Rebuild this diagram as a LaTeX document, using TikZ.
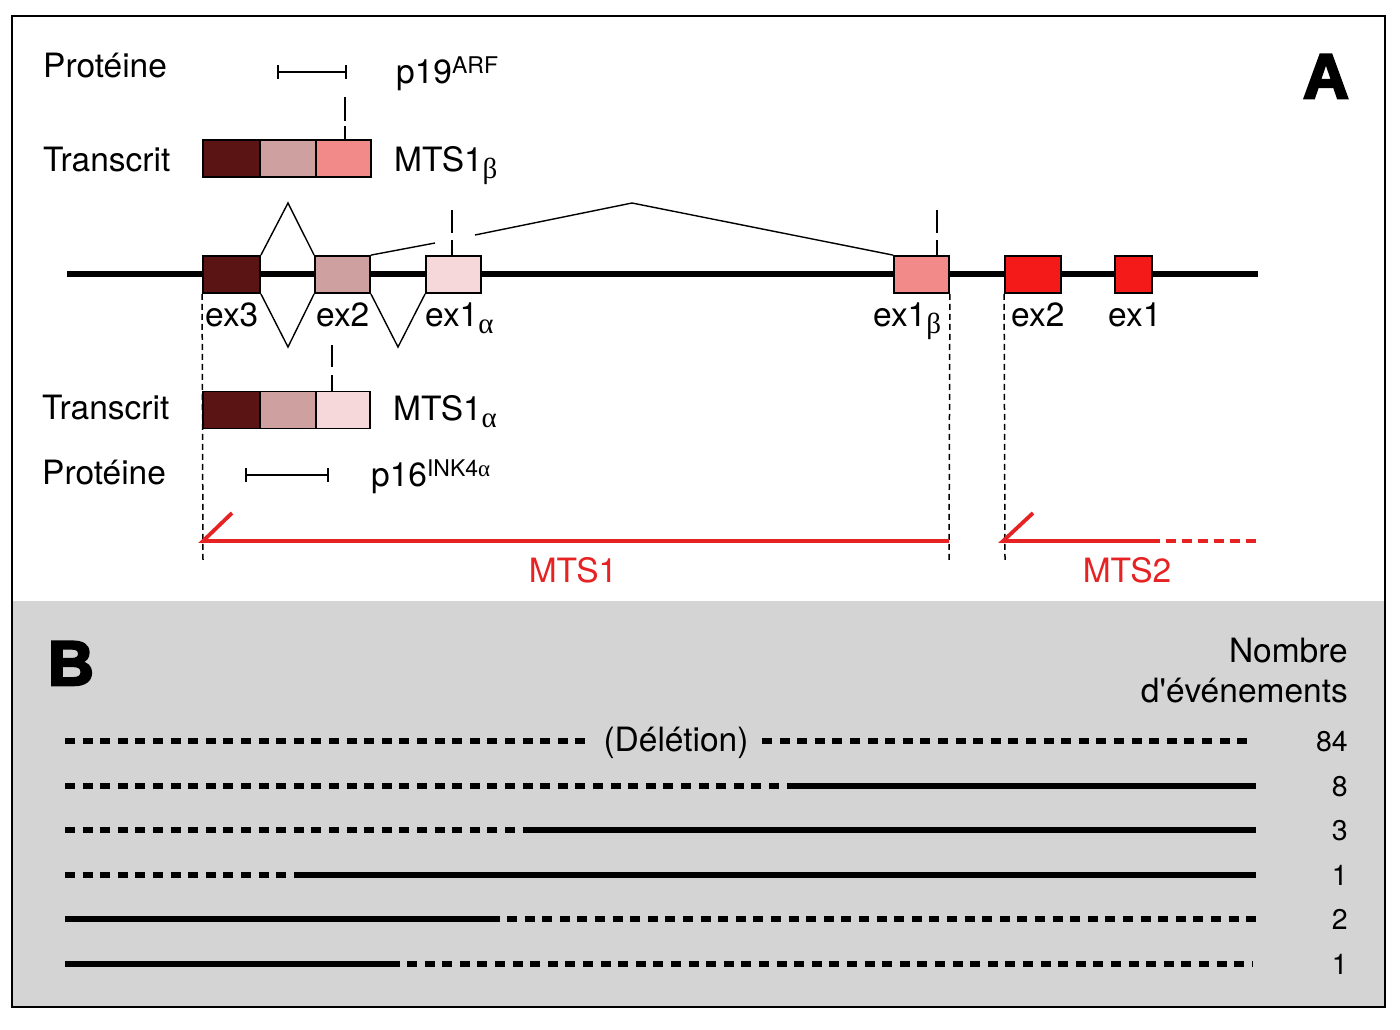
\documentclass[tikz,border=0pt]{standalone}
\usepackage{fontspec}
\usetikzlibrary{calc}
\setmainfont{TeX Gyre Heros}
\newfontfamily\plainq[Ligatures=TeXOff]{TeX Gyre Heros}
\newfontfamily\grk{Liberation Serif}
\newfontfamily\heavy[FakeBold=4]{Liberation Sans}
\definecolor{dk}{HTML}{5A1414}
\definecolor{md}{HTML}{CFA0A0}
\definecolor{lt}{HTML}{F6D8DA}
\definecolor{sal}{HTML}{F28A8A}
\definecolor{rd}{HTML}{F51A1A}
\definecolor{mtsred}{HTML}{E62222}
\definecolor{panelgray}{HTML}{D4D4D4}
\begin{document}
\begin{tikzpicture}[x=1pt,y=-1pt,
  lbl/.style={font=\fontsize{33.5}{36}\selectfont, inner sep=0pt, anchor=base west},
  exon/.style={draw=black, line width=1.8pt, minimum height=37pt, inner sep=0pt},
  seg/.style={draw=black, line width=1.8pt, minimum height=37pt, inner sep=0pt},
  spl/.style={line width=1.4pt},
  ticky/.style={line width=2.2pt, dash pattern=on 23pt off 7pt},
  guide/.style={line width=1.5pt, dash pattern=on 6pt off 4pt},
  protbar/.style={line width=1.6pt},
  mts/.style={mtsred, line width=3.8pt},
  evline/.style={line width=5.5pt},
  evdash/.style={line width=5.5pt, dash pattern=on 10pt off 7.6pt},
  num/.style={font=\fontsize{28.5}{30}\selectfont, anchor=base east, inner sep=0pt},
  big/.style={font=\fontsize{63}{63}\selectfont\heavy\bfseries, inner sep=0pt, anchor=base west}
]
\useasboundingbox (0,0) rectangle (1400,1029);
\fill[white] (0,0) rectangle (1400,1029);
\fill[panelgray] (12,601) rectangle (1385,1007);
\draw[line width=2.2pt] (12,16) rectangle (1385,1007);

% panel letters
\node[big] (lA) at (1303,98) {A};
\node[big] (lB) at (48,685) {B};

% gene line
\coordinate (gl) at (67,274);
\coordinate (gr) at (1258,274);
\draw[line width=5.5pt] (gl) -- (gr);

% exons
\node[exon, fill=dk, minimum width=57pt] (e3) at (231.5,274.5) {};
\node[exon, fill=md, minimum width=55pt] (e2) at (342.5,274.5) {};
\node[exon, fill=lt, minimum width=55pt] (e1a) at (453.5,274.5) {};
\node[exon, fill=sal, minimum width=55pt] (e1b) at (921.5,274.5) {};
\node[exon, fill=rd, minimum width=56pt] (m2) at (1033,274.5) {};
\node[exon, fill=rd, minimum width=37pt] (m1) at (1133.5,274.5) {};

% exon labels
\node[lbl] (le3) at (205,326) {ex3};
\node[lbl] (le2) at (316,326) {ex2};
\node[lbl] (le1a) at (425,326) {ex1{\grk\fontsize{29}{30}\selectfont\raisebox{-7pt}{α}}};
\node[lbl] (le1b) at (873,326) {ex1{\grk\fontsize{29}{30}\selectfont\raisebox{-7pt}{β}}};
\node[lbl] (lm2) at (1011,326) {ex2};
\node[lbl] (lm1) at (1108,326) {ex1};

% splicing
\coordinate (s1) at (288,203);
\coordinate (s2) at (288,347);
\coordinate (s3) at (398,347);
\coordinate (s4) at (632,203);
\coordinate (g1) at (435,243);
\coordinate (g2) at (475,235);
\draw[spl] (e3.north east) -- (s1) -- (e2.north west);
\draw[spl] (e3.south east) -- (s2) -- (e2.south west);
\draw[spl] (e2.south east) -- (s3) -- (e1a.south west);
\draw[spl] (e2.north east) -- (g1);
\draw[spl] (g2) -- (s4) -- (e1b.north west);

% start ticks on gene
\coordinate (t1) at (452,210);
\coordinate (t1b) at (452,256);
\coordinate (t2) at (937,210);
\coordinate (t2b) at (937,256);
\draw[ticky] (t1) -- (t1b);
\draw[ticky] (t2) -- (t2b);

% top transcript MTS1beta
\node[lbl] (protT) at (43,77) {Protéine};
\node[lbl] (trT) at (43,171) {Transcrit};
\node[seg, fill=dk, minimum width=57pt] (tb1) at (231.5,158.5) {};
\node[seg, fill=md, minimum width=56pt] (tb2) at (288,158.5) {};
\node[seg, fill=sal, minimum width=55pt] (tb3) at (343.5,158.5) {};
\node[lbl] (mtsb) at (394,171) {MTS1{\grk\fontsize{29}{30}\selectfont\raisebox{-7pt}{β}}};
\coordinate (tt1) at (345,97);
\coordinate (tt2) at (345,140);
\draw[line width=2.2pt, dash pattern=on 24pt off 5pt] (tt1) -- (tt2);
\coordinate (p19a) at (278,72);
\coordinate (p19b) at (346,72);
\draw[protbar] (p19a) -- (p19b);
\draw[protbar] ($(p19a)+(0,-7)$) -- ($(p19a)+(0,7)$);
\draw[protbar] ($(p19b)+(0,-7)$) -- ($(p19b)+(0,7)$);
\node[lbl] (p19) at (396,83) {p19\raisebox{10pt}{\fontsize{23}{24}\selectfont ARF}};

% bottom transcript MTS1alpha
\node[lbl] (trB) at (42,419) {Transcrit};
\node[lbl] (protB) at (42,484) {Protéine};
\node[seg, fill=dk, minimum width=57pt] (bb1) at (231.5,410) {};
\node[seg, fill=md, minimum width=56pt] (bb2) at (288,410) {};
\node[seg, fill=lt, minimum width=54pt] (bb3) at (343,410) {};
\node[lbl] (mtsa) at (393,420) {MTS1{\grk\fontsize{29}{30}\selectfont\raisebox{-7pt}{α}}};
\coordinate (bt1) at (332,345);
\coordinate (bt2) at (332,392);
\draw[line width=2.2pt, dash pattern=on 22pt off 8pt] (bt1) -- (bt2);
\coordinate (p16a) at (246,475);
\coordinate (p16b) at (328,475);
\draw[protbar] (p16a) -- (p16b);
\draw[protbar] ($(p16a)+(0,-7)$) -- ($(p16a)+(0,7)$);
\draw[protbar] ($(p16b)+(0,-7)$) -- ($(p16b)+(0,7)$);
\node[lbl] (p16) at (371,486) {p16\raisebox{10pt}{\fontsize{23}{24}\selectfont INK4{\grk α}}};

% guides
\coordinate (gd1) at (203,560);
\coordinate (gd2) at (949,560);
\coordinate (gd3) at (1005,560);
\draw[guide] (e3.south west) -- (gd1);
\draw[guide] (e1b.south east) -- (gd2);
\draw[guide] (m2.south west) -- (gd3);

% MTS lines
\coordinate (a1) at (232,513);
\coordinate (a1b) at (203,541);
\coordinate (a1e) at (949,541);
\draw[mts] (a1) -- (a1b) -- (a1e);
\coordinate (a2) at (1033,513);
\coordinate (a2b) at (1003,541);
\coordinate (a2m) at (1150,541);
\coordinate (a2e) at (1258,541);
\draw[mts] (a2) -- (a2b) -- (a2m);
\draw[mts, dash pattern=on 10pt off 6pt] (a2m) -- (a2e);
\node[lbl, anchor=base, text=mtsred] (lmts1) at (573,582) {MTS1};
\node[lbl, anchor=base, text=mtsred] (lmts2) at (1127,582) {MTS2};

% panel B
\node[lbl, anchor=base east] (nb1) at (1348,662) {Nombre};
\node[lbl, anchor=base east, font=\fontsize{33.5}{36}\selectfont\plainq] (nb2) at (1348,702) {d'événements};

\coordinate (r1a) at (65,741);  \coordinate (r1b) at (590,741);
\coordinate (r1c) at (762,741); \coordinate (r1d) at (1252,741);
\draw[evdash] (r1a) -- (r1b);
\draw[evdash] (r1c) -- (r1d);
\node[lbl, anchor=base] (del) at (676,751) {(Délétion)};
\node[num] (n1) at (1348,751) {84};

\coordinate (r2a) at (65,786);  \coordinate (r2b) at (793,786); \coordinate (r2c) at (1256,786);
\draw[evdash] (r2a) -- (r2b);
\draw[evline] (r2b) -- (r2c);
\node[num] (n2) at (1348,796) {8};

\coordinate (r3a) at (65,830);  \coordinate (r3b) at (527,830); \coordinate (r3c) at (1256,830);
\draw[evdash] (r3a) -- (r3b);
\draw[evline] (r3b) -- (r3c);
\node[num] (n3) at (1348,840) {3};

\coordinate (r4a) at (65,875);  \coordinate (r4b) at (295,875); \coordinate (r4c) at (1256,875);
\draw[evdash] (r4a) -- (r4b);
\draw[evline] (r4b) -- (r4c);
\node[num] (n4) at (1348,885) {1};

\coordinate (r5a) at (65,919);  \coordinate (r5b) at (500,919); \coordinate (r5c) at (507,919); \coordinate (r5d) at (1256,919);
\draw[evline] (r5a) -- (r5b);
\draw[evdash] (r5c) -- (r5d);
\node[num] (n5) at (1348,929) {2};

\coordinate (r6a) at (65,964);  \coordinate (r6b) at (400,964); \coordinate (r6c) at (407,964); \coordinate (r6d) at (1252,964);
\draw[evline] (r6a) -- (r6b);
\draw[evdash] (r6c) -- (r6d);
\node[num] (n6) at (1348,974) {1};
\end{tikzpicture}
\end{document}
